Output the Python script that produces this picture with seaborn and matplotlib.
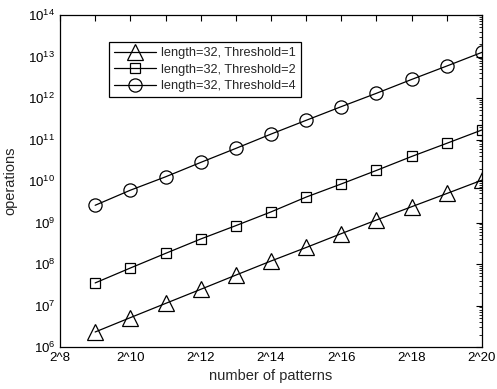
import matplotlib
matplotlib.use("Agg")
import matplotlib.pyplot as plt
import matplotlib.ticker as mticker
import seaborn as sns
import pandas as pd

patterns = [2**k for k in range(9, 21)]
ops_t1 = [2.3e6, 5.1e6, 1.12e7, 2.45e7, 5.4e7, 1.18e8, 2.5e8, 5.4e8, 1.15e9, 2.4e9, 5.0e9, 1.05e10]
ops_t2 = [3.5e7, 8.0e7, 1.8e8, 4.0e8, 8.4e8, 1.8e9, 4.1e9, 8.5e9, 1.8e10, 3.9e10, 8.1e10, 1.7e11]
ops_t4 = [2.6e9, 6.0e9, 1.26e10, 2.8e10, 6.1e10, 1.35e11, 2.9e11, 6.2e11, 1.3e12, 2.8e12, 5.9e12, 1.26e13]
labels = ["length=32, Threshold=1", "length=32, Threshold=2", "length=32, Threshold=4"]
xtick_exps = [8, 10, 12, 14, 16, 18, 20]
ytick_exps = list(range(6, 15))

sns.set_style("white")
plt.rcParams['font.family'] = ['Liberation Sans', 'DejaVu Sans']
plt.rcParams['mathtext.fontset'] = 'custom'
plt.rcParams['mathtext.rm'] = 'Liberation Sans'
plt.rcParams['mathtext.it'] = 'Liberation Sans'

fig = plt.figure(figsize=(4.97, 3.89), dpi=100)
ax = fig.add_axes([60/497, 1-347/389, 422/497, 332/389])

specs = [(ops_t1, '^', 11), (ops_t2, 's', 7.5), (ops_t4, 'o', 9.5)]
for (vals, mk, ms), lab in zip(specs, labels):
    df = pd.DataFrame({"patterns": patterns, "operations": vals})
    sns.lineplot(data=df, x="patterns", y="operations", ax=ax, color='k',
                 marker=mk, markersize=ms, markerfacecolor='none',
                 markeredgecolor='k', markeredgewidth=0.9, linewidth=0.9,
                 label=lab)

ax.set_xscale('log', base=2)
ax.set_yscale('log')
ax.set_xlim(2**8, 2**20)
ax.set_ylim(1e6, 1e14)
ax.xaxis.set_major_locator(mticker.FixedLocator([2**e for e in xtick_exps]))
ax.xaxis.set_major_formatter(mticker.FixedFormatter([f"2^{e}" for e in xtick_exps]))
ax.xaxis.set_minor_locator(mticker.FixedLocator([2**e for e in range(9, 20, 2)]))
ax.xaxis.set_minor_formatter(mticker.NullFormatter())
ax.yaxis.set_major_locator(mticker.FixedLocator([10.0**e for e in ytick_exps]))
ax.yaxis.set_major_formatter(mticker.FixedFormatter([f"$10^{{{e}}}$" for e in ytick_exps]))
ax.yaxis.set_minor_locator(mticker.FixedLocator([k * 10.0**e for e in range(6, 14) for k in range(2, 10)]))
ax.yaxis.set_minor_formatter(mticker.NullFormatter())

ax.tick_params(which='both', direction='in', top=True, right=True, labelsize=9.5, colors='k')
ax.tick_params(which='major', length=4, width=0.8)
ax.tick_params(which='minor', length=2, width=0.6)
ax.tick_params(axis='x', which='minor', length=4, width=0.8)
for s in ax.spines.values():
    s.set_color('k')
    s.set_linewidth(0.9)

ax.set_xlabel("number of patterns", fontsize=10.5, labelpad=4)
ax.set_ylabel("operations", fontsize=10.5, labelpad=8)

leg = ax.legend(loc='upper left', bbox_to_anchor=((109-60)/422, (347-42)/332),
                borderaxespad=0, fancybox=False, framealpha=1, edgecolor='k',
                fontsize=9.2, handlelength=3.3, labelspacing=0.35, borderpad=0.4,
                handletextpad=0.4)
leg.get_frame().set_linewidth(0.9)

fig.savefig("out.png", dpi=100)
